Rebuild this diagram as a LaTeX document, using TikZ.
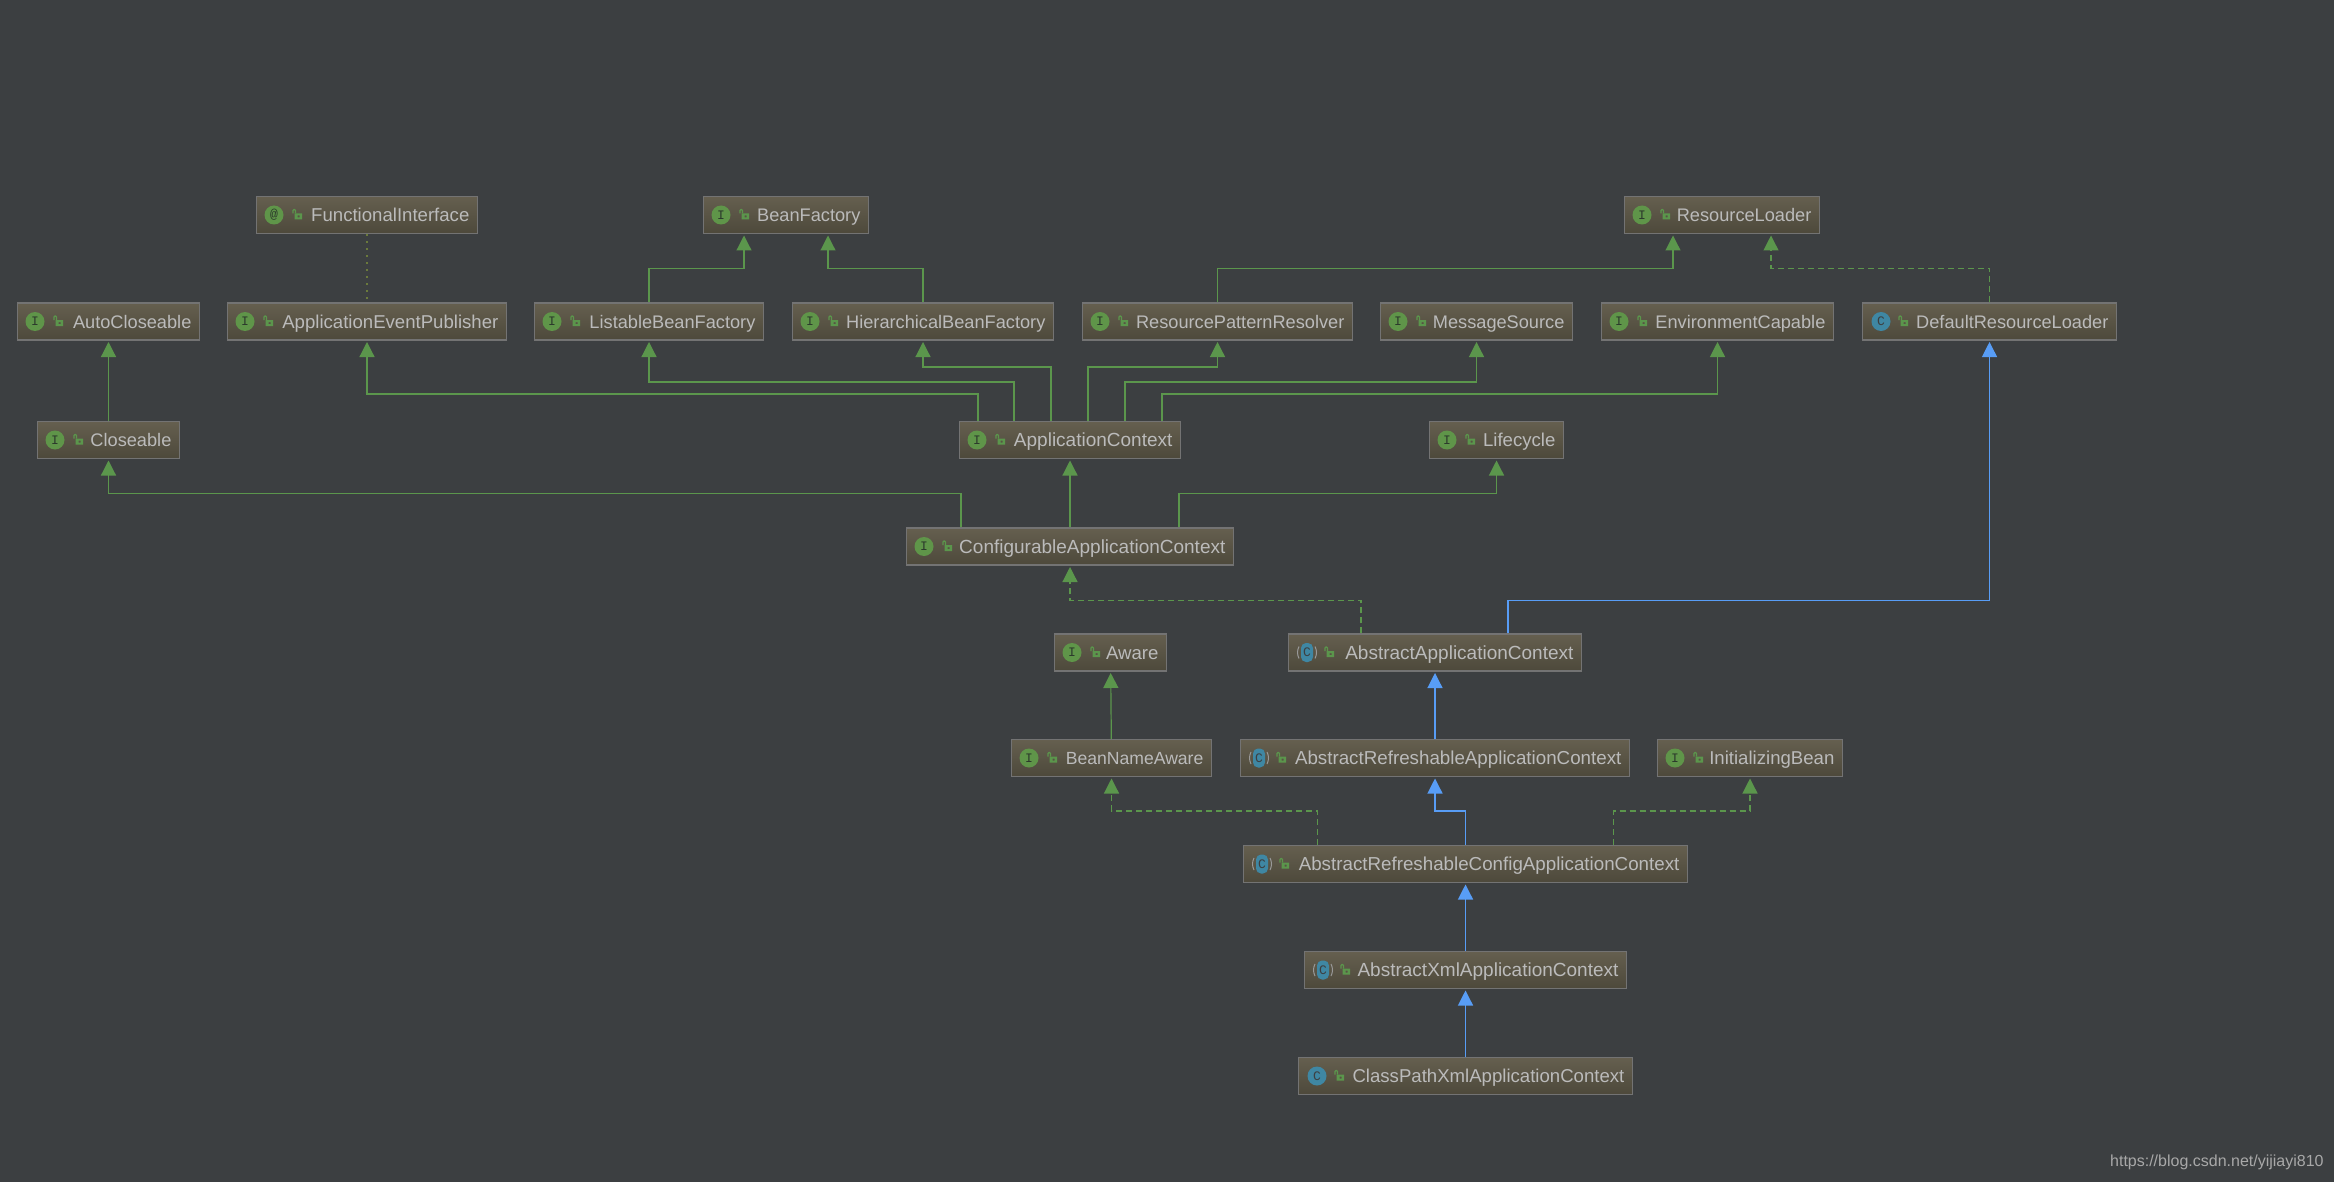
\documentclass[tikz,border=0pt]{standalone}
\usepackage{fontspec}
\setmainfont{Liberation Sans}
\newfontfamily\iconfont{Liberation Mono}
\usetikzlibrary{arrows.meta}
\definecolor{bgdark}{HTML}{3C3F41}
\definecolor{boxtop}{HTML}{655F4F}
\definecolor{boxbot}{HTML}{4D493B}
\definecolor{boxedge}{HTML}{737373}
\definecolor{labelc}{HTML}{BBBBBB}
\definecolor{extc}{HTML}{5B964C}
\definecolor{implc}{HTML}{589DF6}
\definecolor{ifcc}{HTML}{5F9549}
\definecolor{clsc}{HTML}{3F87A3}
\definecolor{glyphc}{HTML}{2C3A2C}
\definecolor{dotc}{HTML}{6B7A3C}
\definecolor{markc}{HTML}{A8A8A8}

\begin{document}
\begin{tikzpicture}[
  x=0.5pt, y=-0.5pt,
  font=\fontsize{9.3}{11}\selectfont, >={Triangle[length=7.5pt,width=7.5pt]},
  box/.style={draw=boxedge, line width=0.6pt, top color=boxtop, bottom color=boxbot,
              text=labelc, minimum height=18.5pt, inner ysep=0pt, inner xsep=4pt,
              text height=6.6pt, text depth=0pt, align=right},
  wd/.style={minimum width=#1*0.5pt-0.6pt, text width={#1*0.5pt-8.6pt}},
  slim/.style={font=\fontsize{9.1}{11}\selectfont},
  broad/.style={font=\fontsize{9.5}{11}\selectfont},
  long/.style={font=\fontsize{9.38}{11}\selectfont},
  ifcicon/.style={circle, fill=ifcc, text=glyphc, minimum size=9.5pt, inner sep=0pt,
                  font=\iconfont\fontsize{6.5}{6.5}\selectfont},
  clsicon/.style={ifcicon, fill=clsc, text=bgdark},
  absicon/.style={clsicon, rectangle, rounded corners=2.5pt, minimum width=6pt,
                  minimum height=9.5pt},
  ext/.style={->, line width=0.6pt, draw=extc, shorten >=0.7pt},
  impl/.style={->, line width=0.6pt, draw=implc, shorten >=0.7pt},
  extdash/.style={ext, dash pattern=on 3pt off 2pt},
  lock/.pic={
    \fill[extc, even odd rule] (-2.5,-1.5) rectangle (5,4.5) (0.5,0.5) rectangle (2.5,2.5);
    \draw[extc, line width=0.55pt, rounded corners=0.5pt] (-4,-1.5) -- (-4,-5.5) -- (-1.5,-5.5) -- (-1.5,-1.5);
  },
  absparen/.pic={
    \draw[gray!80, line width=0.5pt] (-8,-6) .. controls (-10,-2) and (-10,2) .. (-8,6);
    \draw[gray!80, line width=0.5pt] (8,-6) .. controls (10,-2) and (10,2) .. (8,6);
  },
]
\useasboundingbox[fill=bgdark] (0,0) rectangle (2334,1182);
% -- top rows
\node[box, wd=222] (funcif) at (367,215) {FunctionalInterface};
\node[box, wd=166, slim] (beanfac) at (786,215) {BeanFactory};
\node[box, wd=196, slim] (resload) at (1722,215) {ResourceLoader};
\node[box, wd=183, slim] (autocl) at (108.5,321.5) {AutoCloseable};
\node[box, wd=280] (evtpub) at (367,321.5) {ApplicationEventPublisher};
\node[box, wd=230, slim] (listbf) at (649,321.5) {ListableBeanFactory};
\node[box, wd=262, slim] (hierbf) at (923,321.5) {HierarchicalBeanFactory};
\node[box, wd=271, slim] (respat) at (1217.5,321.5) {ResourcePatternResolver};
\node[box, wd=193, slim] (msgsrc) at (1476.5,321.5) {MessageSource};
\node[box, wd=233, slim] (envcap) at (1717.5,321.5) {EnvironmentCapable};
\node[box, wd=255, slim] (defres) at (1989.5,321.5) {DefaultResourceLoader};
% -- context rows
\node[box, wd=143, slim] (closeable) at (108.5,440) {Closeable};
\node[box, wd=222, broad] (appctx) at (1070,440) {ApplicationContext};
\node[box, wd=135] (lifecyc) at (1496.5,440) {Lifecycle};
\node[box, wd=328, broad] (confctx) at (1070,546.5) {ConfigurableApplicationContext};
% -- implementation rows
\node[box, wd=113] (aware) at (1110.5,652.5) {Aware};
\node[box, wd=294, broad] (absctx) at (1435,652.5) {AbstractApplicationContext};
\node[box, wd=201, font=\fontsize{8.8}{11}\selectfont] (bnaware) at (1111.5,758) {BeanNameAware};
\node[box, wd=390, long] (refctx) at (1435,758) {AbstractRefreshableApplicationContext};
\node[box, wd=186] (initbean) at (1750,758) {InitializingBean};
\node[box, wd=445, long] (refconf) at (1465.5,864) {AbstractRefreshableConfigApplicationContext};
\node[box, wd=323, broad] (xmlctx) at (1465.5,970) {AbstractXmlApplicationContext};
\node[box, wd=335] (cpctx) at (1465.5,1076) {ClassPathXmlApplicationContext};
% -- icons
\foreach \n in {beanfac,resload,autocl,evtpub,listbf,hierbf,respat,msgsrc,envcap,closeable,appctx,lifecyc,confctx,aware,bnaware,initbean} {
  \node[ifcicon] (\n-icon) at ([xshift=9pt]\n.west) {I};
}
\node[ifcicon] (funcif-icon) at ([xshift=9pt]funcif.west) {@};
\foreach \n in {defres,cpctx} {
  \node[clsicon] (\n-icon) at ([xshift=9.5pt]\n.west) {C};
}
\foreach \n in {absctx,refctx,refconf,xmlctx} {
  \node[absicon] (\n-icon) at ([xshift=9.5pt]\n.west) {C};
  \pic at (\n-icon) {absparen};
}
\foreach \n in {funcif,beanfac,resload,autocl,evtpub,listbf,hierbf,respat,msgsrc,envcap,defres,closeable,appctx,lifecyc,confctx,aware,absctx,bnaware,refctx,initbean,refconf,xmlctx,cpctx} {
  \pic at ([xshift=20.5pt]\n.west) {lock};
}
% -- flows
\draw[dotc, line width=0.6pt, dash pattern=on 1pt off 2.5pt] (funcif) -- (evtpub);
\draw[ext] (closeable) -- (autocl);
\draw[ext] (listbf.north) -- ++(0,-34) -| ([xshift=-21pt]beanfac.south);
\draw[ext] (hierbf.north) -- ++(0,-34) -| ([xshift=21pt]beanfac.south);
\draw[ext] (respat.north) -- ++(0,-34) -| ([xshift=-24.5pt]resload.south);
\draw[extdash] (defres.north) -- ++(0,-34) -| ([xshift=24.5pt]resload.south);
\draw[ext] ([xshift=-46pt]appctx.north) -- ++(0,-27) -| (evtpub.south);
\draw[ext] ([xshift=-28pt]appctx.north) -- ++(0,-39) -| (listbf.south);
\draw[ext] ([xshift=-9.5pt]appctx.north) -- ++(0,-54) -| (hierbf.south);
\draw[ext] ([xshift=9pt]appctx.north) -- ++(0,-54) -| (respat.south);
\draw[ext] ([xshift=27.5pt]appctx.north) -- ++(0,-39) -| (msgsrc.south);
\draw[ext] ([xshift=46pt]appctx.north) -- ++(0,-27) -| (envcap.south);
\draw[ext] (confctx) -- (appctx);
\draw[ext] ([xshift=-54.5pt]confctx.north) -- ++(0,-34) -| (closeable.south);
\draw[ext] ([xshift=54.5pt]confctx.north) -- ++(0,-34) -| (lifecyc.south);
\draw[extdash] ([xshift=-37pt]absctx.north) -- ++(0,-33) -| (confctx.south);
\draw[impl] ([xshift=36.5pt]absctx.north) -- ++(0,-33) -| (defres.south);
\draw[ext] (bnaware) -- (aware);
\draw[impl] (refctx) -- (absctx);
\draw[impl] (refconf.north) -- ++(0,-34) -| (refctx.south);
\draw[extdash] ([xshift=-74pt]refconf.north) -- ++(0,-34) -| (bnaware.south);
\draw[extdash] ([xshift=74pt]refconf.north) -- ++(0,-34) -| (initbean.south);
\draw[impl] (xmlctx) -- (refconf);
\draw[impl] (cpctx) -- (xmlctx);
% -- watermark
\node[text=markc, font=\fontsize{8}{10}\selectfont, anchor=east, inner sep=0pt] (wmark) at (2324,1162) {https://blog.csdn.net/yijiayi810};
\end{tikzpicture}
\end{document}
